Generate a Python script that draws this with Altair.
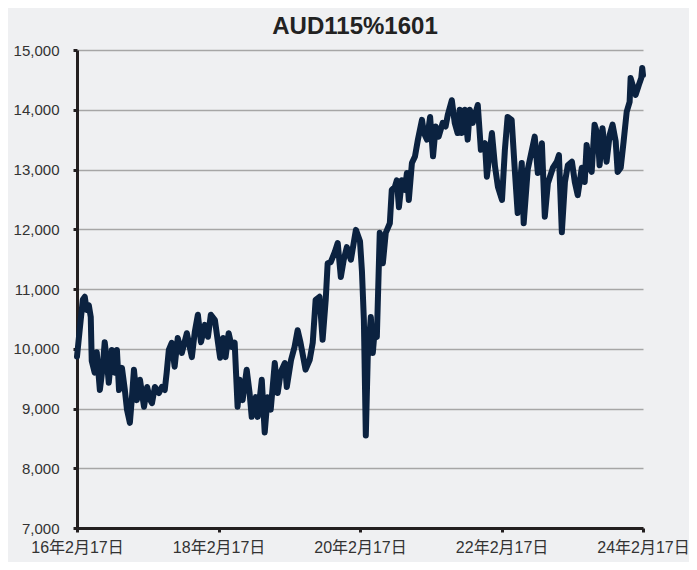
import altair as alt
import pandas as pd

dates = [
    "2016-02-17", "2016-03-02", "2016-03-18", "2016-03-28", "2016-04-07", "2016-04-18", "2016-04-28", "2016-05-03",
    "2016-05-18", "2016-05-29", "2016-06-14", "2016-06-29", "2016-07-09", "2016-07-20", "2016-07-30", "2016-08-15",
    "2016-08-30", "2016-09-10", "2016-09-21", "2016-10-06", "2016-10-21", "2016-11-01", "2016-11-16", "2016-11-27",
    "2016-12-07", "2016-12-22", "2017-01-07", "2017-01-28", "2017-02-13", "2017-02-28", "2017-03-10", "2017-03-25",
    "2017-04-15", "2017-04-30", "2017-05-15", "2017-05-25", "2017-06-05", "2017-06-20", "2017-07-05", "2017-07-21",
    "2017-08-11", "2017-09-06", "2017-10-02", "2017-10-17", "2017-11-02", "2017-11-18", "2017-12-08", "2017-12-24",
    "2018-01-08", "2018-01-29", "2018-02-14", "2018-02-25", "2018-03-12", "2018-03-25", "2018-04-10", "2018-04-26",
    "2018-05-11", "2018-05-26", "2018-06-06", "2018-06-21", "2018-07-12", "2018-07-27", "2018-08-07", "2018-08-28",
    "2018-09-07", "2018-09-28", "2018-10-13", "2018-10-28", "2018-11-13", "2018-12-04", "2018-12-19", "2019-01-04",
    "2019-01-25", "2019-02-04", "2019-02-26", "2019-03-16", "2019-04-01", "2019-04-16", "2019-05-12", "2019-06-02",
    "2019-06-18", "2019-07-03", "2019-07-23", "2019-08-08", "2019-08-24", "2019-09-03", "2019-09-19", "2019-10-10",
    "2019-10-25", "2019-11-10", "2019-11-25", "2019-12-11", "2020-01-01", "2020-01-27", "2020-02-17", "2020-02-27",
    "2020-03-08", "2020-03-18", "2020-03-28", "2020-04-13", "2020-04-23", "2020-05-03", "2020-05-14", "2020-05-29",
    "2020-06-14", "2020-06-29", "2020-07-20", "2020-07-30", "2020-08-15", "2020-08-25", "2020-09-05", "2020-09-20",
    "2020-10-06", "2020-10-16", "2020-10-26", "2020-11-11", "2020-11-27", "2020-12-12", "2021-01-02", "2021-01-12",
    "2021-01-28", "2021-02-13", "2021-02-28", "2021-03-14", "2021-03-29", "2021-04-19", "2021-05-04", "2021-05-15",
    "2021-06-05", "2021-06-20", "2021-07-05", "2021-07-16", "2021-07-26", "2021-08-11", "2021-08-26", "2021-09-06",
    "2021-09-21", "2021-10-17", "2021-11-02", "2021-11-23", "2021-12-03", "2021-12-29", "2022-01-14", "2022-01-29",
    "2022-02-19", "2022-03-06", "2022-03-20", "2022-04-10", "2022-04-25", "2022-05-11", "2022-06-01", "2022-06-11",
    "2022-07-02", "2022-08-07", "2022-08-23", "2022-09-13", "2022-09-28", "2022-10-14", "2022-11-09", "2022-11-29",
    "2022-12-10", "2022-12-25", "2023-01-10", "2023-01-25", "2023-02-15", "2023-03-02", "2023-03-17", "2023-04-07",
    "2023-04-22", "2023-05-02", "2023-05-17", "2023-05-28", "2023-06-12", "2023-06-28", "2023-07-08", "2023-07-23",
    "2023-08-03", "2023-08-13", "2023-08-29", "2023-09-13", "2023-09-29", "2023-10-09", "2023-10-25", "2023-11-09",
    "2023-11-25", "2023-12-10", "2023-12-15", "2023-12-26", "2024-01-10", "2024-01-26", "2024-02-08", "2024-02-13",
    "2024-02-17",
]

values = [
    9870, 10320, 10820, 10870, 10650, 10730, 10530, 9800,
    9600, 9940, 9310, 9700, 10110, 9800, 9430, 9980,
    9600, 9980, 9310, 9680, 9310, 8980, 8760, 9200,
    9650, 9140, 9480, 9030, 9360, 9150, 9090, 9360,
    9260, 9360, 9310, 9600, 9980, 10100, 9700, 10180,
    9930, 10260, 9860, 10280, 10570, 10110, 10400, 10200,
    10570, 10480, 10100, 9850, 10180, 9860, 10260, 10030,
    10100, 9030, 9480, 9140, 9650, 9260, 8860, 9190,
    8860, 9480, 8600, 9190, 8980, 9760, 9260, 9610,
    9760, 9360, 9810, 10030, 10310, 10100, 9650, 9810,
    10100, 10820, 10870, 10150, 10820, 11430, 11450, 11620,
    11770, 11200, 11490, 11700, 11490, 11990, 11800, 11300,
    10480, 8550, 9860, 10530, 9930, 10310, 10200, 11940,
    11430, 11940, 12100, 12660, 12710, 12820, 12370, 12820,
    12660, 12940, 12490, 13110, 13220, 13500, 13830, 13610,
    13500, 13880, 13220, 13720, 13550, 13780, 13720, 13910,
    14160, 13780, 13610, 14000, 13610, 14000, 13500, 14000,
    13780, 14080, 13330, 13440, 12880, 13610, 13050, 12710,
    12490, 13330, 13880, 13830, 13050, 12270, 13110, 12100,
    13000, 13550, 12940, 13440, 12210, 12770, 13030, 13130,
    13240, 11950, 12790, 13070, 13130, 12790, 12570, 13030,
    12790, 13410, 13030, 12960, 13750, 13580, 13070, 13690,
    13360, 13130, 13580, 13750, 13470, 12960, 13030, 13470,
    13970, 14130, 14530, 14410, 14250, 14410, 14530, 14700,
    14580,
]

tick_dates = ["2016-02-17", "2018-02-17", "2020-02-17", "2022-02-17", "2024-02-17"]
y_ticks = [7000, 8000, 9000, 10000, 11000, 12000, 13000, 14000, 15000]
title_text = "AUD115%1601"

df = pd.DataFrame({"date": pd.to_datetime(dates), "value": values})


def dt(s):
    y, m, d = (int(p) for p in s.split("-"))
    return alt.DateTime(year=y, month=m, date=d)


font = "'Liberation Sans', Arial, 'Noto Sans CJK JP', sans-serif"

chart = (
    alt.Chart(df)
    .mark_line(color="#0b2240", strokeWidth=6, strokeJoin="round", strokeCap="round")
    .encode(
        x=alt.X(
            "date:T",
            scale=alt.Scale(domain=[dt(tick_dates[0]), dt(tick_dates[-1])]),
            axis=alt.Axis(
                title=None,
                values=[dt(s) for s in tick_dates],
                format="%y年%-m月%-d日",
                grid=False,
                labelFontSize=16,
                labelPadding=7,
                labelFlush=False,
                labelOverlap=False,
            ),
        ),
        y=alt.Y(
            "value:Q",
            scale=alt.Scale(domain=[7000, 15000], nice=False, zero=False),
            axis=alt.Axis(
                title=None,
                values=y_ticks,
                format=",d",
                grid=True,
                labelFontSize=15,
                labelPadding=14,
            ),
        ),
    )
    .properties(
        width=566,
        height=478,
        title=alt.TitleParams(
            text=title_text,
            fontSize=24,
            fontWeight="bold",
            font=font,
            color="#222222",
            anchor="middle",
            frame="group",
            offset=4,
            dx=-5,
        ),
        autosize=alt.AutoSizeParams(type="none"),
        padding={"left": 69, "top": 42, "right": 46, "bottom": 34},
        background="#eff0f2",
    )
    .configure_view(strokeWidth=0)
    .configure_axis(
        labelFont=font,
        labelColor="#333333",
        domainColor="#231f20",
        domainWidth=3,
        tickColor="#231f20",
        tickWidth=3,
        tickSize=4,
        gridColor="#a6a6a6",
        gridWidth=1.5,
    )
)

chart.save("out.html", embed_options={"renderer": "svg", "actions": False})
